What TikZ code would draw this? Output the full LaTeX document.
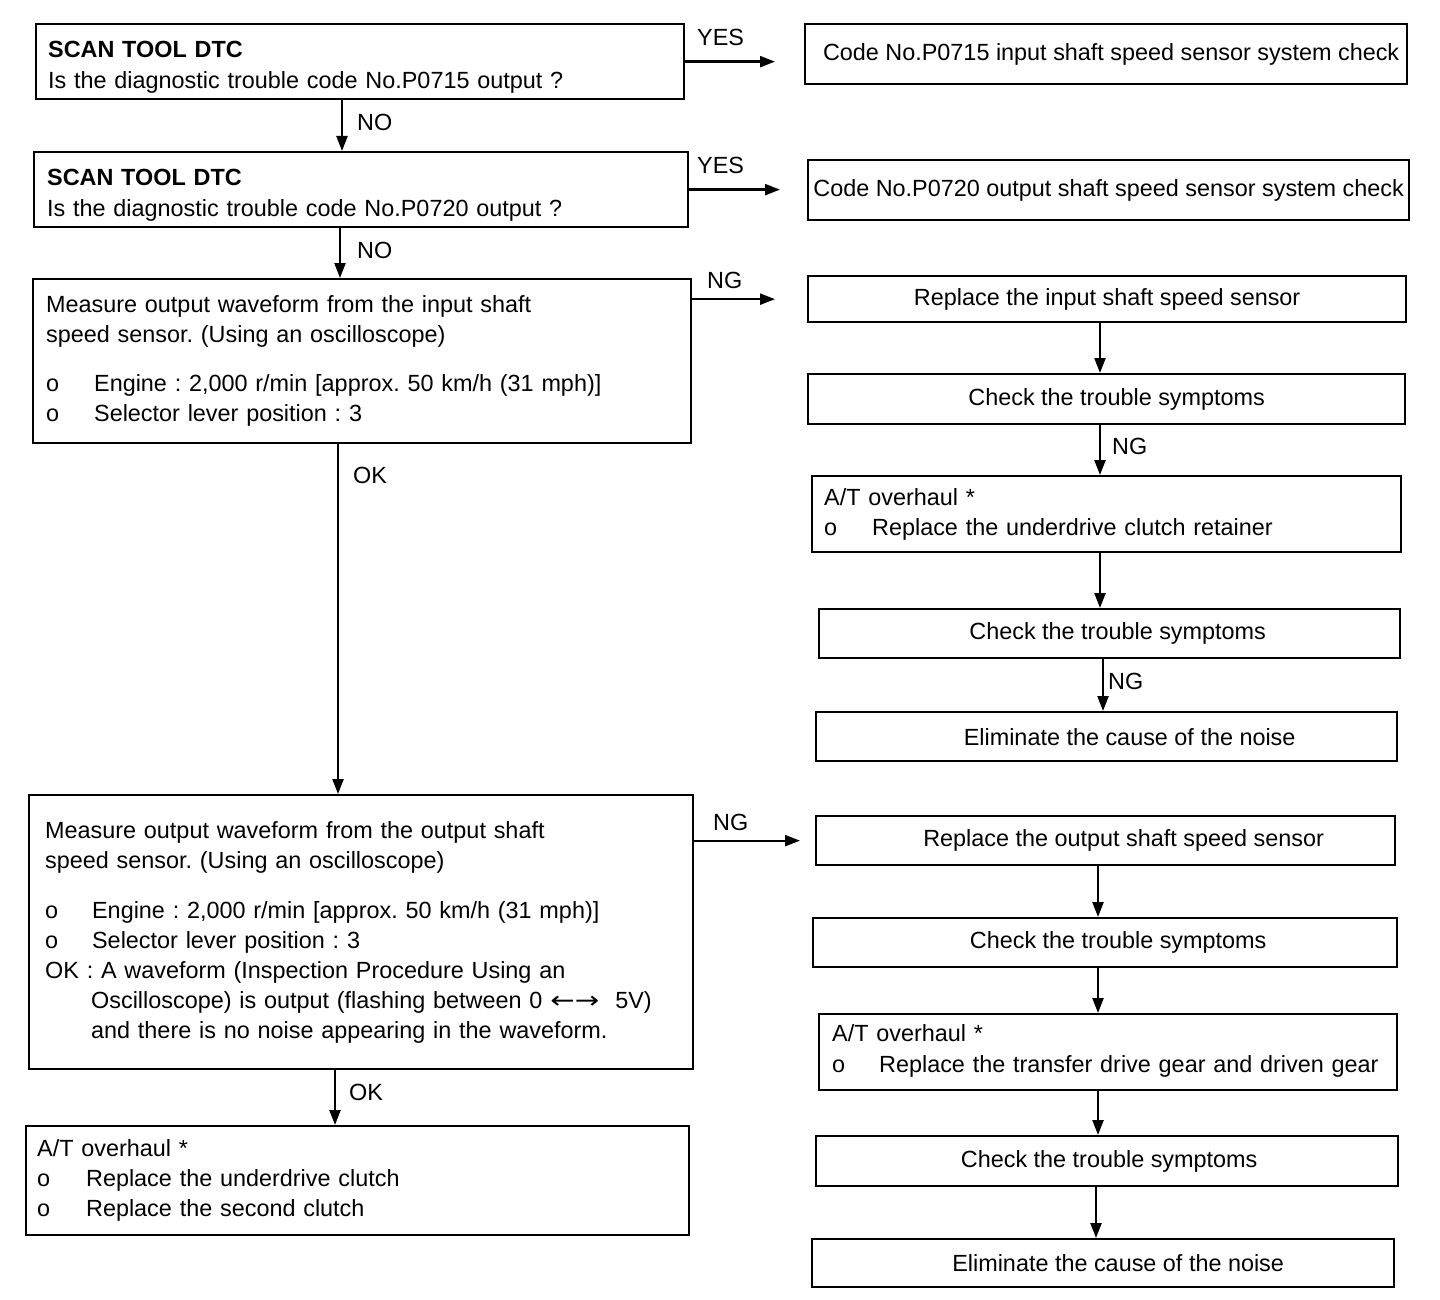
\documentclass[tikz,border=0pt]{standalone}
\usepackage{fontspec}
\setmainfont{Liberation Sans}
\newfontfamily\symfont{DejaVu Sans}
\usetikzlibrary{arrows.meta}
\newcommand{\bul}[1]{\makebox[#1][l]{o}}
\frenchspacing
\begin{document}
\begin{tikzpicture}[x=1pt,y=-1pt,
  every node/.style={font=\fontsize{23.4}{30}\selectfont\frenchspacing},
  box/.style={draw, line width=2.3pt, rectangle, anchor=north west, inner ysep=0pt},
  cbox/.style={box, inner xsep=2pt},
  arr/.style={line width=2.3pt, -{Triangle[length=15pt,width=11pt]}},
  lab/.style={anchor=west, inner sep=0pt}]
\useasboundingbox[fill=white] (0,0) rectangle (1440,1300);

% left column
\node[box, minimum height=75pt, inner xsep=12pt, text width=624pt, align=left] (a) at (35,23)
  {\rule{0pt}{27pt}\textbf{SCAN TOOL DTC}\\[1pt]Is the diagnostic trouble code No.P0715 output ?};
\node[box, minimum height=75pt, inner xsep=13pt, text width=628pt, align=left] (b) at (33,151)
  {\rule{0pt}{27pt}\textbf{SCAN TOOL DTC}\\[1pt]Is the diagnostic trouble code No.P0720 output ?};
\node[box, minimum height=164pt, inner xsep=13pt, text width=632pt, align=left] (c) at (32,278)
  {Measure output waveform from the input shaft\\
   speed sensor. (Using an oscilloscope)\\[19pt]
   \bul{48pt}Engine : 2,000 r/min [approx. 50 km/h (31 mph)]\\
   \bul{48pt}Selector lever position : 3};
\node[box, minimum height=274pt, inner xsep=16pt, text width=632pt, align=left] (d) at (28,794)
  {\rule{0pt}{13pt}Measure output waveform from the output shaft\\
   speed sensor. (Using an oscilloscope)\\[20pt]
   \bul{47pt}Engine : 2,000 r/min [approx. 50 km/h (31 mph)]\\
   \bul{47pt}Selector lever position : 3\\
   OK : A waveform (Inspection Procedure Using an\\
   \hspace*{46pt}Oscilloscope) is output (flashing between 0 {\symfont\scalebox{1.25}[1]{←→}}\hspace{16pt}5V)\\
   \hspace*{46pt}and there is no noise appearing in the waveform.};
\node[box, minimum height=109pt, inner xsep=11pt, text width=641pt, align=left] (e) at (25,1125)
  {A/T overhaul *\\
   \bul{49pt}Replace the underdrive clutch\\
   \bul{49pt}Replace the second clutch};

% right column
\node[cbox, minimum width=602pt, minimum height=60pt] (r1) at (804,23)
  {\hspace*{10pt}Code No.P0715 input shaft speed sensor system check};
\node[cbox, minimum width=601pt, minimum height=60pt] (r2) at (807,159)
  {Code No.P0720 output shaft speed sensor system check};
\node[cbox, minimum width=598pt, minimum height=46pt] (r3) at (807,275)
  {Replace the input shaft speed sensor};
\node[cbox, minimum width=597pt, minimum height=50pt] (r4) at (807,373)
  {\hspace*{20pt}Check the trouble symptoms};
\node[box, minimum height=76pt, inner xsep=12pt, text width=565pt, align=left] (r5) at (811,475)
  {A/T overhaul *\\
   \bul{48pt}Replace the underdrive clutch retainer};
\node[cbox, minimum width=581pt, minimum height=49pt] (r6) at (818,608)
  {\hspace*{16pt}Check the trouble symptoms};
\node[cbox, minimum width=581pt, minimum height=49pt] (r7) at (815,711)
  {\hspace*{46pt}Eliminate the cause of the noise};
\node[cbox, minimum width=579pt, minimum height=49pt] (r8) at (815,815)
  {\hspace*{36pt}Replace the output shaft speed sensor};
\node[cbox, minimum width=584pt, minimum height=49pt] (r9) at (812,917)
  {\hspace*{26pt}Check the trouble symptoms};
\node[box, minimum height=76pt, inner xsep=13pt, text width=552pt, align=left] (r10) at (818,1013)
  {A/T overhaul *\\[1pt]
   \bul{47pt}Replace the transfer drive gear and driven gear\rule[-8pt]{0pt}{8pt}};
\node[cbox, minimum width=582pt, minimum height=50pt] (r11) at (815,1135)
  {\hspace*{4pt}Check the trouble symptoms};
\node[cbox, minimum width=582pt, minimum height=48pt] (r12) at (811,1238)
  {\hspace*{30pt}Eliminate the cause of the noise};

% x positions of vertical connectors
\coordinate (xab) at (342,0);
\coordinate (xbc) at (340,0);
\coordinate (xcd) at (338,0);
\coordinate (xde) at (335,0);
\coordinate (x1) at (1100,0);
\coordinate (x2) at (1103,0);
\coordinate (x3) at (1098,0);
\coordinate (x4) at (1096,0);

% left vertical connectors
\draw[arr] (xab |- a.south) -- (xab |- b.north);
\draw[arr] (xbc |- b.south) -- (xbc |- c.north);
\draw[arr] (xcd |- c.south) -- (xcd |- d.north);
\draw[arr] (xde |- d.south) -- (xde |- e.north);

% horizontal connectors
\draw[arr, shorten >=29pt] (a.east) -- (a.east -| r1.west);
\draw[arr, shorten >=27pt] (b.east) -- (b.east -| r2.west);
\draw[arr, shorten >=32pt] (c.east |- r3.west) -- (r3.west);
\draw[arr, shorten >=15pt] (d.east |- r8.west) -- (r8.west);

% right vertical connectors
\draw[arr] (x1 |- r3.south) -- (x1 |- r4.north);
\draw[arr] (x1 |- r4.south) -- (x1 |- r5.north);
\draw[arr] (x1 |- r5.south) -- (x1 |- r6.north);
\draw[arr] (x2 |- r6.south) -- (x2 |- r7.north);
\draw[arr] (x3 |- r8.south) -- (x3 |- r9.north);
\draw[arr] (x3 |- r9.south) -- (x3 |- r10.north);
\draw[arr] (x3 |- r10.south) -- (x3 |- r11.north);
\draw[arr] (x4 |- r11.south) -- (x4 |- r12.north);

% labels
\node[lab] (lno1) at (357,122) {NO};
\node[lab] (lno2) at (357,250) {NO};
\node[lab] (lok1) at (353,475) {OK};
\node[lab] (lok2) at (349,1092) {OK};
\node[lab] (lyes1) at (697,37) {YES};
\node[lab] (lyes2) at (697,165) {YES};
\node[lab] (lng1) at (707,280) {NG};
\node[lab] (lng2) at (713,822) {NG};
\node[lab] (lng3) at (1112,446) {NG};
\node[lab] (lng4) at (1108,681) {NG};
\end{tikzpicture}
\end{document}
